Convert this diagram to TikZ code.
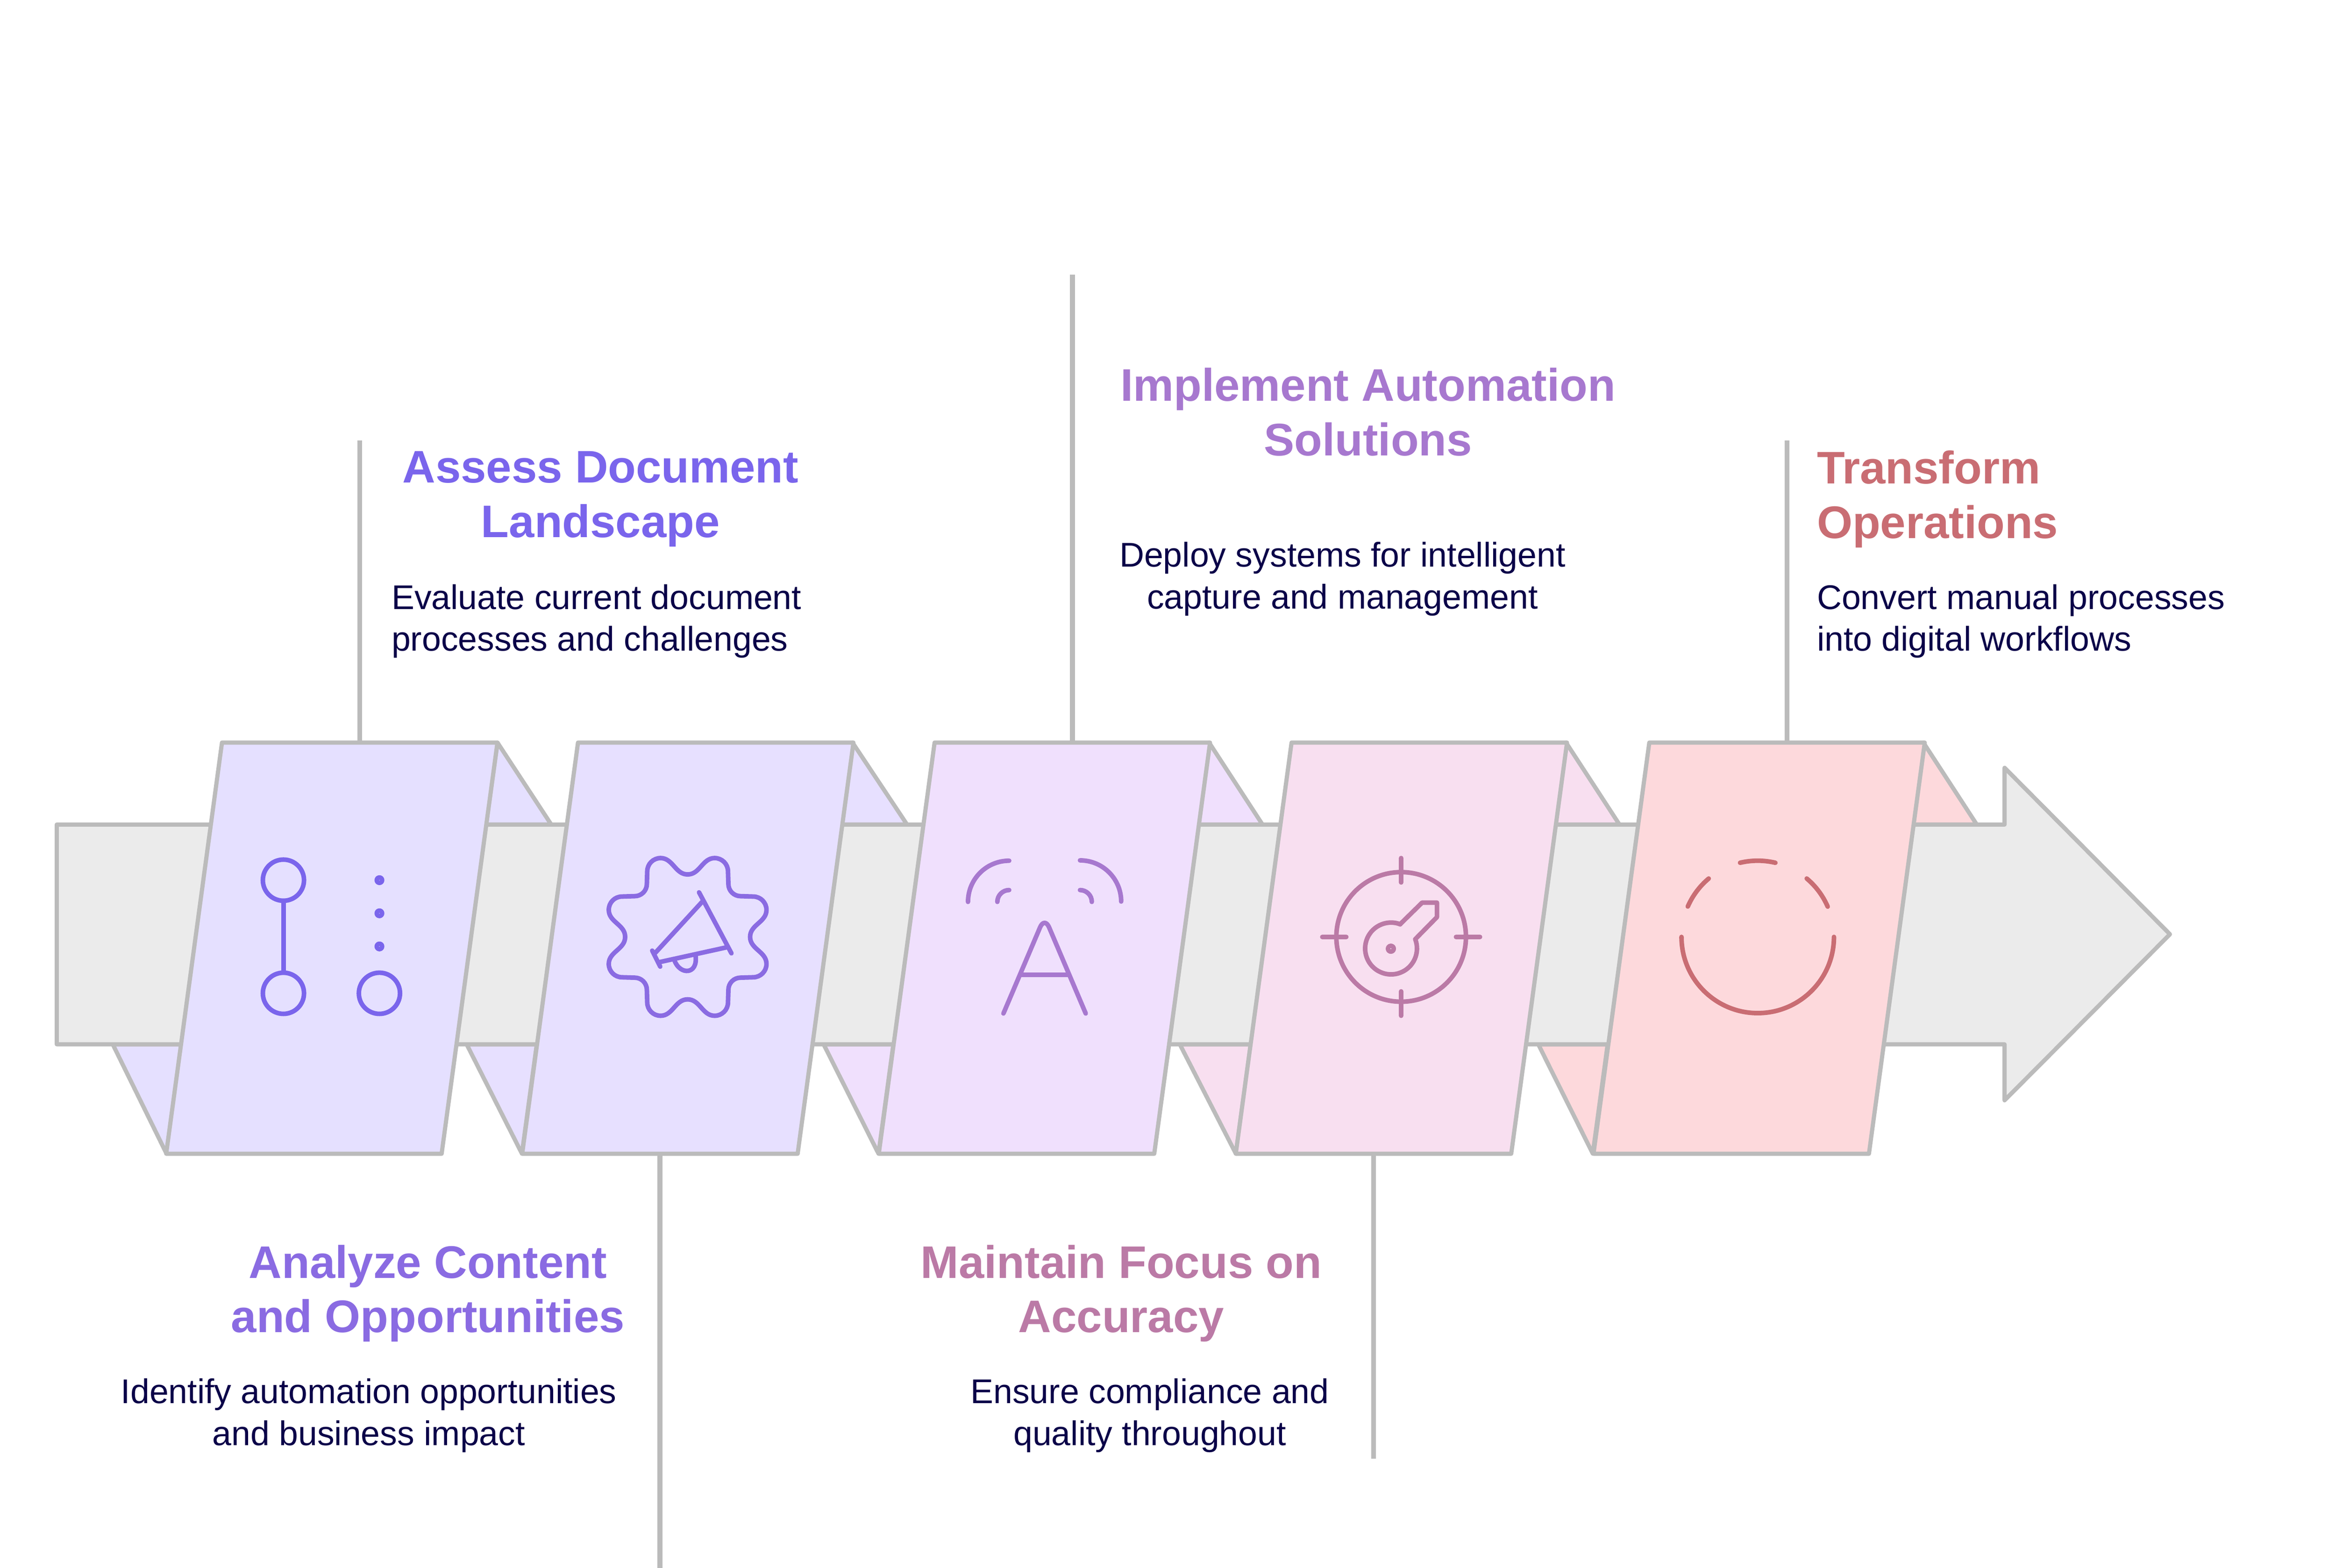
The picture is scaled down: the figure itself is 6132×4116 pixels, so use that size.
\documentclass[tikz,border=0pt]{standalone}
\usepackage{xcolor}
\usepackage{fontspec}
\setmainfont{Liberation Sans}
\usetikzlibrary{shapes.geometric, positioning}
\definecolor{edgegray}{HTML}{BBBBBB}
\definecolor{shaftgray}{HTML}{EBEBEB}
\definecolor{bodyink}{HTML}{0A0048}
\definecolor{fillA}{HTML}{E5E0FF}
\definecolor{fillB}{HTML}{E7E0FF}
\definecolor{fillC}{HTML}{F0E0FD}
\definecolor{fillD}{HTML}{F8DFF0}
\definecolor{fillE}{HTML}{FDD9DC}
\definecolor{inkA}{HTML}{7A65EC}
\definecolor{inkB}{HTML}{8A6BE2}
\definecolor{inkC}{HTML}{A778CF}
\definecolor{inkD}{HTML}{BB7AA6}
\definecolor{inkE}{HTML}{C96D73}
\tikzstyle{panel} = [trapezium, 
trapezium stretches=true, 
trapezium left angle=72.9, 
trapezium right angle=107.1, 
minimum width=8.69cm, 
minimum height=10.79cm, 
inner sep=0pt, outer sep=0pt,
line width=0.11cm, line join=round,
draw=edgegray]
\tikzstyle{fold} = [line width=0.11cm, line join=round, draw=edgegray]
\tikzstyle{stem} = [line width=0.13cm, draw=edgegray]
\tikzstyle{icon} = [line width=0.12cm, line cap=round, line join=round]
\tikzstyle{heading} = [font=\fontsize{34.1}{40.7}\selectfont\bfseries, 
inner sep=0pt, 
align=center]
\tikzstyle{blurb} = [font=\fontsize{25.6}{31.3}\selectfont, 
text=bodyink, 
inner sep=0pt, 
align=center]

\begin{document}
\begin{tikzpicture}[x=0.01cm, y=0.01cm, node distance=9.36cm]
\useasboundingbox (0,0) rectangle (6132,-4116);

% Folds behind the band
\draw [fold, fill=fillA] (296,-2742) -- (437,-3029) -- (476,-2742) -- cycle;
\draw [fold, fill=fillA] (1306,-1950) -- (1447,-2165) -- (1276,-2165) -- cycle;
\draw [fold, fill=fillB] (1225,-2742) -- (1370,-3029) -- (1409,-2742) -- cycle;
\draw [fold, fill=fillB] (2238,-1950) -- (2381,-2165) -- (2208,-2165) -- cycle;
\draw [fold, fill=fillC] (2162,-2742) -- (2306,-3029) -- (2345,-2742) -- cycle;
\draw [fold, fill=fillC] (3174,-1950) -- (3314,-2165) -- (3144,-2165) -- cycle;
\draw [fold, fill=fillD] (3097,-2742) -- (3244,-3029) -- (3283,-2742) -- cycle;
\draw [fold, fill=fillD] (4111,-1950) -- (4251,-2165) -- (4081,-2165) -- cycle;
\draw [fold, fill=fillE] (4038,-2742) -- (4181,-3029) -- (4220,-2742) -- cycle;
\draw [fold, fill=fillE] (5049,-1950) -- (5189,-2165) -- (5019,-2165) -- cycle;

% Band
\draw [fold, fill=shaftgray] (149,-2165) -- (5262,-2165) -- (5262,-2016) -- (5696,-2453) -- (5262,-2889) -- (5262,-2742) -- (149,-2742) -- cycle;

% Nodes
\node (assess) [panel, fill=fillA] at (871,-2489.5) {\phantom{M}};
\node (analyze) [panel, fill=fillB, right of=assess, xshift=-0.02cm] {\phantom{M}};
\node (implement) [panel, fill=fillC, right of=analyze, xshift=-0.005cm] {\phantom{M}};
\node (maintain) [panel, fill=fillD, right of=implement, xshift=0.005cm] {\phantom{M}};
\node (transform) [panel, fill=fillE, right of=maintain, xshift=0.025cm] {\phantom{M}};

\node (assess_title) [heading, text=inkA, above of=assess, xshift=7.05cm, yshift=2.42cm] {Assess Document\\Landscape};
\node (assess_text) [blurb, above of=assess, xshift=1.56cm, yshift=-0.78cm, anchor=west, align=left] {Evaluate current document\\processes and challenges};
\node (analyze_title) [heading, text=inkB, below of=analyze, xshift=-6.82cm, yshift=0.30cm] {Analyze Content\\and Opportunities};
\node (analyze_text) [blurb, below of=analyze, xshift=-8.37cm, yshift=-2.90cm] {Identify automation opportunities\\and business impact};
\node (implement_title) [heading, text=inkC, above of=implement, xshift=8.49cm, yshift=4.71cm] {Implement Automation\\Solutions};
\node (implement_text) [blurb, above of=implement, xshift=7.82cm, yshift=0.33cm] {Deploy systems for intelligent\\capture and management};
\node (maintain_title) [heading, text=inkD, below of=maintain, xshift=-7.35cm, yshift=0.30cm] {Maintain Focus on\\Accuracy};
\node (maintain_text) [blurb, below of=maintain, xshift=-6.6cm, yshift=-2.90cm] {Ensure compliance and\\quality throughout};
\node (transform_title) [heading, text=inkE, above of=transform, xshift=1.51cm, yshift=2.42cm, anchor=west, align=left] {Transform\\Operations};
\node (transform_text) [blurb, above of=transform, xshift=1.51cm, yshift=-0.78cm, anchor=west, align=left] {Convert manual processes\\into digital workflows};

\coordinate (assess_end) at (942,-1156);
\coordinate (analyze_end) at (1733,-4120);
\coordinate (implement_end) at (2814,-721);
\coordinate (maintain_end) at (3606,-3830);
\coordinate (transform_end) at (4685,-1156);

% Stems
\draw [stem] (assess.top side) -- (assess.top side |- assess_end);
\draw [stem] (analyze.bottom side) -- (analyze.bottom side |- analyze_end);
\draw [stem] (implement.top side) -- (implement.top side |- implement_end);
\draw [stem] (maintain.bottom side) -- (maintain.bottom side |- maintain_end);
\draw [stem] (transform.top side) -- (transform.top side |- transform_end);

% Icon: nodes and dots
\draw [icon, inkA] (744,-2311) circle (0.54cm);
\draw [icon, inkA] (744,-2608) circle (0.54cm);
\draw [icon, inkA] (996,-2608) circle (0.54cm);
\draw [icon, inkA] (744,-2365) -- (744,-2554);
\draw [icon, inkA] (996,-2311) circle (0.07cm);
\draw [icon, inkA] (996,-2398) circle (0.07cm);
\draw [icon, inkA] (996,-2485) circle (0.07cm);

% Icon: megaphone in a badge
\begin{scope}[shift={(1805,-2460)}]
\draw [icon, inkB] (0,164) to[out=0,in=180] (71,207) to[out=0,in=90] (106,172) -- (107,139) to[out=-90,in=180] (139,107) -- (172,106) to[out=0,in=90] (207,71) to[out=-90,in=90] (164,0)
to[out=-90,in=90] (207,-71) to[out=-90,in=0] (172,-106) -- (139,-107) to[out=180,in=90] (107,-139) -- (106,-172) to[out=-90,in=0] (71,-207) to[out=180,in=0] (0,-164)
to[out=180,in=0] (-71,-207) to[out=180,in=-90] (-106,-172) -- (-107,-139) to[out=90,in=0] (-139,-107) -- (-172,-106) to[out=180,in=-90] (-207,-71) to[out=90,in=-90] (-164,0)
to[out=90,in=-90] (-207,71) to[out=90,in=180] (-172,106) -- (-139,107) to[out=0,in=-90] (-107,139) -- (-106,172) to[out=90,in=180] (-71,207) to[out=0,in=180] (0,164) -- cycle;
\end{scope}
\draw [icon, inkB] (1835,-2343) -- (1920,-2503);
\draw [icon, inkB] (1712,-2496) -- (1733,-2538);
\draw [icon, inkB] (1843,-2368) -- (1720,-2502);
\draw [icon, inkB] (1732,-2526) -- (1909,-2487);
\draw [icon, inkB] (1771,-2523) .. controls (1785,-2560) and (1832,-2560) .. (1826,-2510);

% Icon: antenna
\draw [icon, inkC] (2541,-2368) arc (180:90:1.08cm);
\draw [icon, inkC] (2618,-2368) arc (180:90:0.31cm);
\draw [icon, inkC] (2835,-2259) arc (90:0:1.08cm);
\draw [icon, inkC] (2835,-2337) arc (90:0:0.31cm);
\draw [icon, inkC, rounded corners=0.3cm] (2634,-2661) -- (2742,-2407) -- (2850,-2661);
\draw [icon, inkC, line cap=butt] (2678,-2559) -- (2806,-2559);

% Icon: key in a target
\draw [icon, inkD] (3678,-2460) circle (1.7cm);
\draw [icon, inkD] (3678,-2253) -- (3678,-2317);
\draw [icon, inkD] (3678,-2603) -- (3678,-2667);
\draw [icon, inkD] (3471,-2460) -- (3534,-2460);
\draw [icon, inkD] (3822,-2460) -- (3885,-2460);
\draw [icon, inkD] (3675,-2427) -- (3733,-2370) -- (3772,-2370) -- (3772,-2408) -- (3715,-2466) arc (21:-291:0.68cm) -- cycle;
\draw [icon, inkD] (3651,-2491) circle (0.075cm);

% Icon: broken ring
\draw [icon, inkE] (4614,-2460) ++(180:2cm) arc (180:360:2cm);
\draw [icon, inkE] (4614,-2460) ++(23.4:2cm) arc (23.4:50:2cm);
\draw [icon, inkE] (4614,-2460) ++(76.6:2cm) arc (76.6:103.4:2cm);
\draw [icon, inkE] (4614,-2460) ++(130:2cm) arc (130:156.5:2cm);

\end{tikzpicture}
\end{document}
